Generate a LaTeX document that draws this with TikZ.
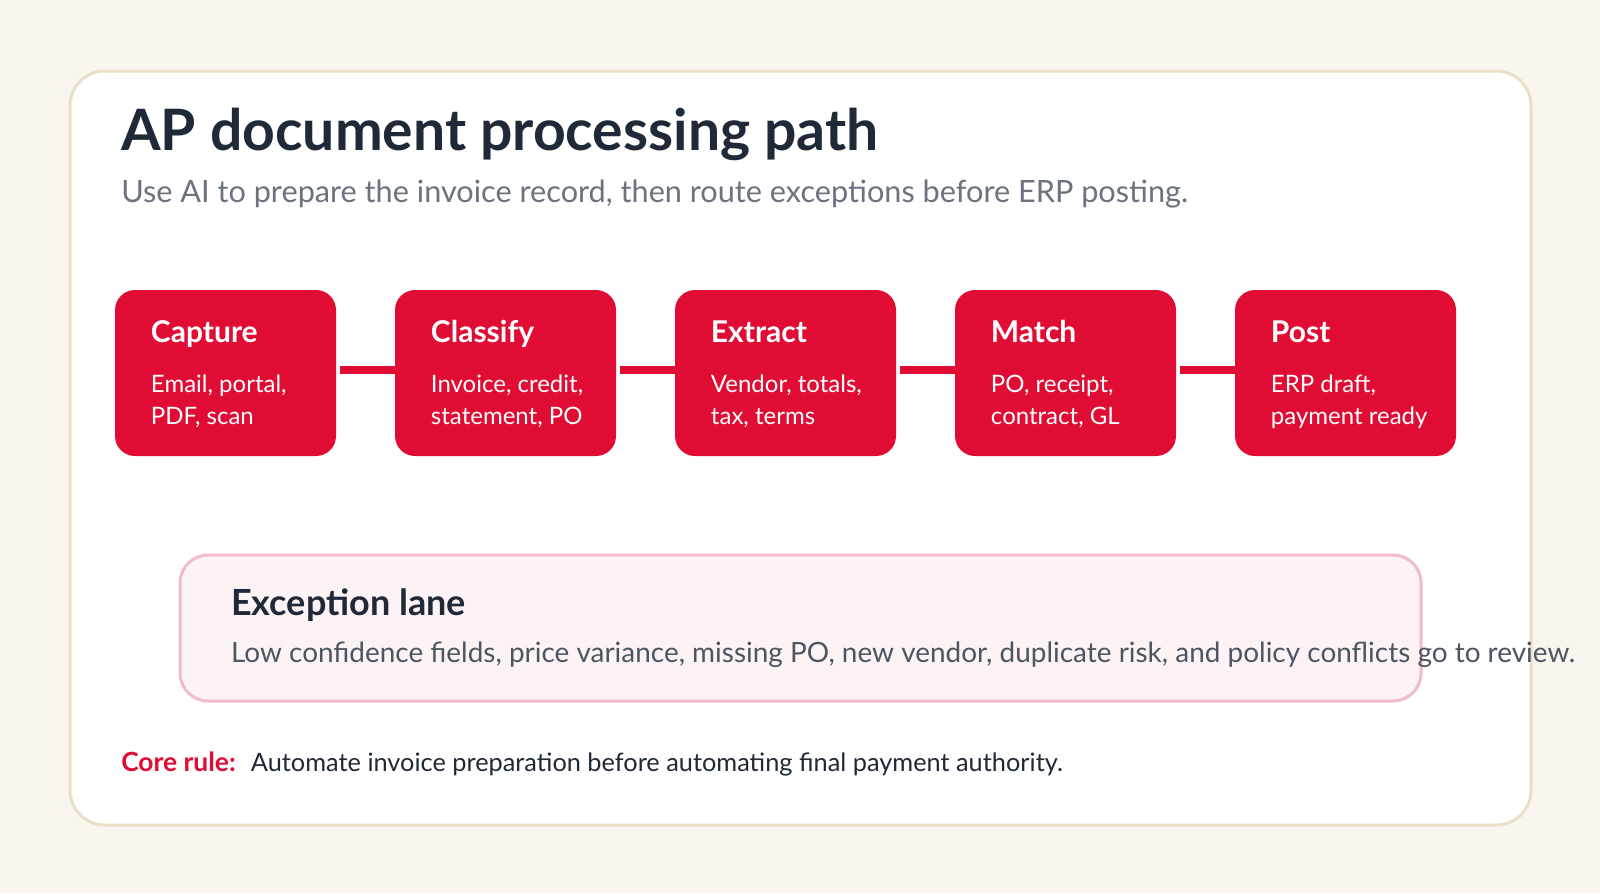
\documentclass[tikz,border=0pt]{standalone}
\usepackage{fontspec}
\setmainfont{Lato}
\usepackage{tikz}

\definecolor{bgcream}{HTML}{FAF6EF}
\definecolor{cardline}{HTML}{E9DFC6}
\definecolor{inkdark}{HTML}{1F2937}
\definecolor{inkgray}{HTML}{6B7280}
\definecolor{inkslate}{HTML}{4B5563}
\definecolor{apred}{HTML}{E00C33}
\definecolor{lanefill}{HTML}{FDF3F5}
\definecolor{laneline}{HTML}{F1BCCA}

\tikzset{
  stage/.style={draw=none, fill=apred, rounded corners=15pt, minimum width=165.75pt, minimum height=124.5pt, inner sep=0pt},
  stagehead/.style={anchor=base west, inner sep=0pt, text=white, font=\fontsize{22.5}{27}\selectfont\bfseries},
  stagebody/.style={anchor=base west, inner sep=0pt, text=white, align=left, font=\fontsize{18}{23.8}\selectfont},
  link/.style={draw=apred, line width=6.5pt}
}

\begin{document}
\begin{tikzpicture}[x=0.75pt,y=0.75pt,yscale=-1,xscale=1]
        %set diagram size: 1600 x 893
        \fill [bgcream] (0,0) rectangle (1600,893);

        %Shape: Card
        \node [draw=cardline, line width=2.25pt, fill=white, rounded corners=26pt, minimum width=1095.75pt, minimum height=565.5pt, inner sep=0pt] (card) at (800.5,448) {};

        % Text Node
        \node [anchor=base west][inner sep=0pt][text=inkdark, font=\fontsize{42.8}{50}\selectfont\bfseries] (title) at (121,150) {AP document processing path};
        % Text Node
        \node [anchor=base west][inner sep=0pt][text=inkgray, font=\fontsize{23}{28}\selectfont] (subtitle) at (121,202.7) {Use AI to prepare the invoice record, then route exceptions before ERP posting.};

        %Shape: Stages
        \node [stage] (capture) at (225.5,373) {};
        \node [stage] (classify) at (505.5,373) {};
        \node [stage] (extract) at (785.5,373) {};
        \node [stage] (match) at (1065.5,373) {};
        \node [stage] (post) at (1345.5,373) {};

        %Straight Lines
        \draw [link] ([xshift=3pt,yshift=-2.25pt]capture.east) -- ([yshift=-2.25pt]classify.west);
        \draw [link] ([xshift=3pt,yshift=-2.25pt]classify.east) -- ([yshift=-2.25pt]extract.west);
        \draw [link] ([xshift=3pt,yshift=-2.25pt]extract.east) -- ([yshift=-2.25pt]match.west);
        \draw [link] ([xshift=3pt,yshift=-2.25pt]match.east) -- ([yshift=-2.25pt]post.west);

        % Text Node (body placed at its last baseline)
        \node [stagehead] (captureT) at (150.7,342.3) {Capture};
        \node [stagebody] (captureB) at (150.7,424.3) {Email, portal,\\PDF, scan};
        % Text Node
        \node [stagehead] (classifyT) at (430.7,342.3) {Classify};
        \node [stagebody] (classifyB) at (430.7,424.3) {Invoice, credit,\\statement, PO};
        % Text Node
        \node [stagehead] (extractT) at (710.7,342.3) {Extract};
        \node [stagebody] (extractB) at (710.7,424.3) {Vendor, totals,\\tax, terms};
        % Text Node
        \node [stagehead] (matchT) at (990.7,342.3) {Match};
        \node [stagebody] (matchB) at (990.7,424.3) {PO, receipt,\\contract, GL};
        % Text Node
        \node [stagehead] (postT) at (1270.7,342.3) {Post};
        \node [stagebody] (postB) at (1270.7,424.3) {ERP draft,\\payment ready};

        %Shape: Exception lane
        \node [draw=laneline, line width=2.25pt, fill=lanefill, rounded corners=21pt, minimum width=930.75pt, minimum height=109.5pt, inner sep=0pt] (lane) at (800.5,628) {};

        % Text Node
        \node [anchor=base west][inner sep=0pt][text=inkdark, font=\fontsize{27}{32}\selectfont\bfseries] (laneT) at (230.8,615.7) {Exception lane};
        % Text Node
        \node [anchor=base west][inner sep=0pt][text=inkslate, font=\fontsize{20.95}{25}\selectfont] (laneB) at (230.8,662.7) {Low confidence fields, price variance, missing PO, new vendor, duplicate risk, and policy conflicts go to review.};

        % Text Node
        \node [anchor=base west][inner sep=0pt][text=apred, font=\fontsize{19.8}{24}\selectfont\bfseries] (ruleT) at (121,771.7) {Core rule:};
        % Text Node
        \node [anchor=base west][inner sep=0pt][text=inkdark, font=\fontsize{19}{23}\selectfont] (ruleB) at (250.7,771.7) {Automate invoice preparation before automating final payment authority.};

\end{tikzpicture}
\end{document}
